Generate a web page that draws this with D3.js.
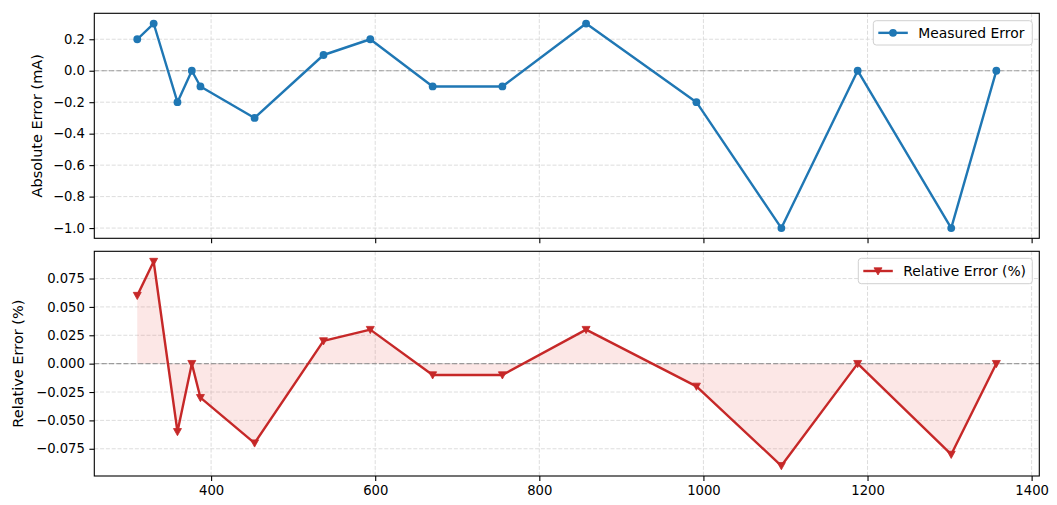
<!DOCTYPE html>
<html>
<head>
<meta charset="utf-8">
<script src="https://cdn.jsdelivr.net/npm/d3@7/dist/d3.min.js"></script>
<style>
  body { margin: 0; background: #fff; }
  svg { display: block; font-family: "DejaVu Sans", sans-serif; }
</style>
</head>
<body>
<svg id="chart" width="1057" height="505"></svg>
<script>
const currents = [310, 330, 359, 376.5, 387, 453, 537, 594, 670, 755, 857, 991.5, 1095, 1188, 1302, 1357];
const absError = [0.2, 0.3, -0.2, 0.0, -0.1, -0.3, 0.1, 0.2, -0.1, -0.1, 0.3, -0.2, -1.0, 0.0, -1.0, 0.0];
const relError = [0.06, 0.09, -0.06, 0.0, -0.03, -0.07, 0.02, 0.03, -0.01, -0.01, 0.03, -0.02, -0.09, 0.0, -0.08, 0.0];
const xTicks = [400, 600, 800, 1000, 1200, 1400];
const absTicks = [0.2, 0.0, -0.2, -0.4, -0.6, -0.8, -1.0];
const relTicks = [0.075, 0.050, 0.025, 0.000, -0.025, -0.050, -0.075];
const absLabel = "Absolute Error (mA)";
const relLabel = "Relative Error (%)";
const absLegend = "Measured Error";
const relLegend = "Relative Error (%)";

const svg = d3.select("#chart");
const L = 94.3, R = 1039.3;
const blue = "#1f77b4", red = "#c62828";

function pad(ext) { const r = ext[1] - ext[0]; return [ext[0] - 0.05 * r, ext[1] + 0.05 * r]; }

const x = d3.scaleLinear().domain(pad(d3.extent(currents))).range([L, R]);

function panel(opts) {
  const { top, bottom, values, ticks, fmt, label, labelX, color, marker, legendText, legendBox, showXLabels, fill } = opts;
  const y = d3.scaleLinear().domain(pad(d3.extent(values))).range([bottom, top]);
  const g = svg.append("g");
  const clipId = "clip" + Math.round(top);
  svg.append("clipPath").attr("id", clipId).append("rect")
    .attr("x", L).attr("y", top).attr("width", R - L).attr("height", bottom - top);

  // grid
  const grid = g.append("g").attr("stroke", "#d9d9d9").attr("stroke-width", 0.9).attr("stroke-dasharray", "4,1.8");
  xTicks.forEach(t => grid.append("line").attr("x1", x(t)).attr("x2", x(t)).attr("y1", top).attr("y2", bottom));
  ticks.forEach(t => grid.append("line").attr("x1", L).attr("x2", R).attr("y1", y(t)).attr("y2", y(t)));

  // fill
  if (fill) {
    const area = d3.area().x((d, i) => x(currents[i])).y0(y(0)).y1(d => y(d));
    g.append("path").datum(values).attr("d", area).attr("fill", "#e53935").attr("fill-opacity", 0.12)
      .attr("clip-path", `url(#${clipId})`);
  }

  // zero line
  g.append("line").attr("x1", L).attr("x2", R).attr("y1", y(0)).attr("y2", y(0))
    .attr("stroke", "#888").attr("stroke-opacity", 0.8).attr("stroke-width", 1.1).attr("stroke-dasharray", "5.1,2.2");

  // line
  const line = d3.line().x((d, i) => x(currents[i])).y(d => y(d));
  g.append("path").datum(values).attr("d", line).attr("fill", "none").attr("stroke", color)
    .attr("stroke-width", 2.4).attr("stroke-linejoin", "round").attr("stroke-linecap", "square");

  // markers
  const drawMarker = (sel, cx, cy) => {
    if (marker === "circle") {
      sel.append("circle").attr("cx", cx).attr("cy", cy).attr("r", 3.9).attr("fill", color);
    } else {
      const s = 4.0;
      sel.append("path").attr("d", `M${cx - s},${cy - s * 0.8}L${cx + s},${cy - s * 0.8}L${cx},${cy + s * 1.0}Z`)
        .attr("fill", color).attr("stroke", color).attr("stroke-width", 0.8);
    }
  };
  values.forEach((v, i) => drawMarker(g, x(currents[i]), y(v)));

  // axes
  const yAxis = d3.axisLeft(y).tickValues(ticks).tickSize(4.9).tickPadding(4.5).tickFormat(fmt);
  const ya = g.append("g").attr("transform", `translate(${L},0)`).call(yAxis);
  const xAxis = d3.axisBottom(x).tickValues(xTicks).tickSize(4.9).tickPadding(4.5)
    .tickFormat(showXLabels ? d3.format("d") : "");
  const xa = g.append("g").attr("transform", `translate(0,${bottom})`).call(xAxis);
  [ya, xa].forEach(a => {
    a.select(".domain").remove();
    a.selectAll("line").attr("stroke", "#000").attr("stroke-width", 1.1);
    a.selectAll("text").attr("font-size", 13.2).attr("fill", "#000").attr("font-family", "DejaVu Sans");
  });
  ya.selectAll("text").text(d => fmt(d).replace("-", "\u2212"));

  // spines
  g.append("rect").attr("x", L).attr("y", top).attr("width", R - L).attr("height", bottom - top)
    .attr("fill", "none").attr("stroke", "#000").attr("stroke-width", 1.1);

  // y label
  const cy = (top + bottom) / 2;
  g.append("text").attr("transform", `translate(${labelX},${cy}) rotate(-90)`)
    .attr("text-anchor", "middle").attr("dominant-baseline", "central")
    .attr("font-size", 14.5).attr("fill", "#000").text(label);

  // legend
  const lb = legendBox;
  const lg = g.append("g");
  lg.append("rect").attr("x", lb.x).attr("y", lb.y).attr("width", lb.w).attr("height", lb.h)
    .attr("rx", 3).attr("fill", "#fff").attr("fill-opacity", 0.85).attr("stroke", "#d0d0d0").attr("stroke-width", 1);
  const hy = lb.y + lb.h / 2;
  lg.append("line").attr("x1", lb.x + 5).attr("x2", lb.x + 34.5).attr("y1", hy).attr("y2", hy)
    .attr("stroke", color).attr("stroke-width", 2.4);
  drawMarker(lg, lb.x + 19.7, hy);
  lg.append("text").attr("x", lb.x + 45).attr("y", hy).attr("dominant-baseline", "central")
    .attr("font-size", 13.9).attr("fill", "#000").text(legendText);
  return y;
}

panel({
  top: 13.3, bottom: 238.3, values: absError, ticks: absTicks, fmt: d3.format(".1f"),
  label: absLabel, labelX: 37, color: blue, marker: "circle", legendText: absLegend,
  legendBox: { x: 873.3, y: 20.7, w: 159, h: 24.3 }, showXLabels: false, fill: false
});
panel({
  top: 251.3, bottom: 476, values: relError, ticks: relTicks, fmt: d3.format(".3f"),
  label: relLabel, labelX: 18.3, color: red, marker: "tri", legendText: relLegend,
  legendBox: { x: 858.3, y: 258.3, w: 174, h: 25.4 }, showXLabels: true, fill: true
});
</script>
</body>
</html>
